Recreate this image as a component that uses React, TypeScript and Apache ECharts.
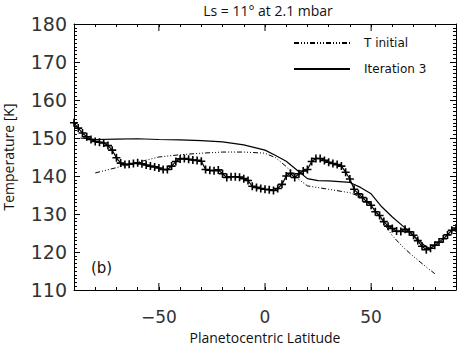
import React, { useEffect, useRef } from "react";
import * as echarts from "echarts";

// Observed temperatures (crosses)
const obsLat = [
  -90, -88, -86, -84, -82, -80, -78, -76, -74, -72, -70, -68, -66, -64, -62, -60,
  -58, -56, -54, -52, -50, -48, -46, -44, -42, -40, -38, -36, -34, -32, -30, -28,
  -26, -24, -22, -20, -18, -16, -14, -12, -10, -8, -6, -4, -2, 0, 2, 4, 6, 8, 10,
  12, 14, 16, 18, 20, 22, 24, 26, 28, 30, 32, 34, 36, 38, 40, 42, 44, 46, 48, 50,
  52, 54, 56, 58, 60, 62, 64, 66, 68, 70, 72, 74, 76, 78, 80, 82, 84, 86, 88, 90,
];
const obsTemp = [
  154.0, 152.6, 151.3, 150.3, 149.6, 149.1, 148.9, 148.7, 148.0, 146.8, 144.8, 143.4, 143.0, 143.1, 143.3, 143.5,
  143.2, 142.9, 142.6, 142.4, 142.1, 141.7, 141.7, 142.6, 143.8, 144.5, 144.6, 144.4, 144.2, 144.1, 143.9, 141.7,
  141.5, 141.4, 141.6, 140.6, 139.6, 139.8, 139.8, 139.7, 139.3, 138.8, 137.3, 137.0, 136.7, 136.5, 136.4, 136.2, 136.7, 137.8, 140.0,
  140.7, 139.6, 140.6, 141.3, 141.7, 143.8, 144.6, 144.6, 144.1, 143.6, 143.3, 143.0, 142.6, 141.0, 139.2, 136.5, 135.3, 134.3, 133.2, 132.3,
  130.6, 129.6, 128.0, 126.8, 126.2, 125.5, 125.4, 126.0, 125.3, 124.4, 123.0, 121.5, 120.6, 121.0, 121.8, 122.6, 123.5, 124.5, 125.7, 126.3,
];

// T initial (dash-dot-dot-dot)
const initLat = [-80, -70, -60, -50, -40, -30, -20, -10, 0, 5, 10, 15, 20, 30, 40, 45, 50, 55, 60, 65, 70, 75, 80];
const initTemp = [140.8, 142.2, 143.6, 145.0, 145.6, 146.0, 146.3, 146.3, 146.0, 144.8, 142.5, 139.5, 137.4, 136.5, 135.6, 134.5, 132.6, 128.4, 124.3, 121.3, 118.8, 116.5, 114.3];

// Iteration 3 (solid)
const iterLat = [-87, -80, -70, -60, -50, -40, -30, -20, -10, 0, 5, 10, 15, 20, 25, 30, 40, 45, 50, 55, 60, 65, 70, 75, 78];
const iterTemp = [150.0, 149.6, 149.7, 149.8, 149.6, 149.5, 149.3, 149.0, 148.2, 146.8, 145.4, 143.9, 141.6, 139.3, 138.8, 138.7, 138.3, 137.0, 135.3, 131.9, 129.2, 126.8, 124.3, 121.8, 120.8];

const xMajorTicks = [-50, 0, 50];
const xMin = -90;
const xMax = 90;
const yMin = 110;
const yMax = 180;

const zip = (a: number[], b: number[]) => a.map((v, i) => [v, b[i]]);

const tickFont = "DejaVu Sans";
const textFont = "Open Sans";

export default function App() {
  const ref = useRef<HTMLDivElement>(null);
  useEffect(() => {
    const chart = echarts.init(ref.current!, null, { renderer: "svg" });
    const axisLine = { show: true, onZero: false, lineStyle: { color: "#000", width: 1 } };
    chart.setOption({
      animation: false,
      backgroundColor: "#fff",
      grid: { left: 74, right: 1, top: 24, bottom: 60, containLabel: false, outerBoundsMode: "none" },
      graphic: [
        {
          type: "text",
          x: 268,
          y: 10,
          style: {
            text: "Ls = 11° at 2.1 mbar",
            font: `500 14px "${textFont}"`,
            fill: "#111",
            textAlign: "center",
            textVerticalAlign: "middle",
          },
        },
        {
          type: "text",
          x: 91,
          y: 268,
          style: {
            text: "(b)",
            font: `15px "${tickFont}"`,
            fill: "#111",
            textAlign: "left",
            textVerticalAlign: "middle",
          },
        },
      ],
      legend: {
        orient: "vertical",
        left: 293,
        top: 37,
        padding: 0,
        itemWidth: 56,
        itemHeight: 14,
        itemGap: 14,
        data: ["T initial", "Iteration 3"],
        itemStyle: { opacity: 0 },
        textStyle: { fontSize: 12, fontFamily: tickFont, color: "#111", padding: [0, 0, 0, 9] },
      },
      xAxis: [
        {
          type: "value",
          min: xMin,
          max: xMax,
          interval: 10,
          position: "bottom",
          axisLine,
          axisTick: { show: true, inside: true, length: 3, lineStyle: { color: "#000" } },
          splitLine: { show: false },
          axisLabel: {
            fontSize: 17,
            fontFamily: tickFont,
            color: "#333",
            margin: 18,
            formatter: (v: number) => (xMajorTicks.includes(v) ? (v < 0 ? "−" + Math.abs(v) : String(v)) : ""),
          },
          name: "Planetocentric Latitude",
          nameLocation: "middle",
          nameGap: 40,
          nameTextStyle: { fontSize: 14, fontFamily: textFont, color: "#111" },
        },
        {
          type: "value",
          min: xMin,
          max: xMax,
          interval: 10,
          position: "top",
          axisLine,
          axisTick: { show: true, inside: true, length: 3, lineStyle: { color: "#000" } },
          splitLine: { show: false },
          axisLabel: { show: false },
        },
      ],
      yAxis: [
        {
          type: "value",
          min: yMin,
          max: yMax,
          interval: 10,
          position: "left",
          axisLine,
          axisTick: { show: true, inside: true, length: 6, lineStyle: { color: "#000" } },
          minorTick: { show: true, splitNumber: 10, length: 3, lineStyle: { color: "#000" } },
          splitLine: { show: false },
          minorSplitLine: { show: false },
          axisLabel: { fontSize: 19, fontFamily: tickFont, color: "#333", margin: 7 },
          name: "Temperature [K]",
          nameLocation: "middle",
          nameGap: 59,
          nameTextStyle: { fontSize: 14, fontFamily: textFont, color: "#111" },
        },
        {
          type: "value",
          min: yMin,
          max: yMax,
          interval: 10,
          position: "right",
          axisLine,
          axisTick: { show: true, inside: true, length: 6, lineStyle: { color: "#000" } },
          minorTick: { show: true, splitNumber: 10, length: 3, lineStyle: { color: "#000" } },
          splitLine: { show: false },
          axisLabel: { show: false },
        },
      ],
      series: [
        {
          name: "Observed",
          type: "line",
          data: zip(obsLat, obsTemp),
          symbol: "path://M0,5L10,5M5,0L5,10",
          symbolSize: 8,
          showSymbol: true,
          lineStyle: { color: "#000", width: 1.2 },
          itemStyle: { color: "#000", borderColor: "#000", borderWidth: 1.6 },
          z: 3,
        },
        {
          name: "T initial",
          type: "line",
          data: zip(initLat, initTemp),
          symbol: "none",
          lineStyle: { color: "#000", width: 1, type: [5, 2, 1, 2, 1, 2, 1, 2] },
          itemStyle: { color: "#000" },
          z: 2,
        },
        {
          name: "Iteration 3",
          type: "line",
          data: zip(iterLat, iterTemp),
          symbol: "none",
          lineStyle: { color: "#000", width: 1.2 },
          itemStyle: { color: "#000" },
          z: 2,
        },
        {
          name: "majorTicks",
          type: "custom",
          silent: true,
          data: xMajorTicks.map((v) => [v, yMin]),
          renderItem: (params: any, api: any) => {
            const b = api.coord([api.value(0), yMin]);
            const t = api.coord([api.value(0), yMax]);
            return {
              type: "group",
              children: [
                { type: "line", shape: { x1: b[0], y1: b[1], x2: b[0], y2: b[1] - 7 }, style: { stroke: "#000", lineWidth: 1 } },
                { type: "line", shape: { x1: t[0], y1: t[1], x2: t[0], y2: t[1] + 7 }, style: { stroke: "#000", lineWidth: 1 } },
              ],
            };
          },
        },
      ],
    });
    return () => chart.dispose();
  }, []);
  return <div ref={ref} style={{ position: "absolute", left: 0, top: 0, width: 457, height: 350 }} />;
}
